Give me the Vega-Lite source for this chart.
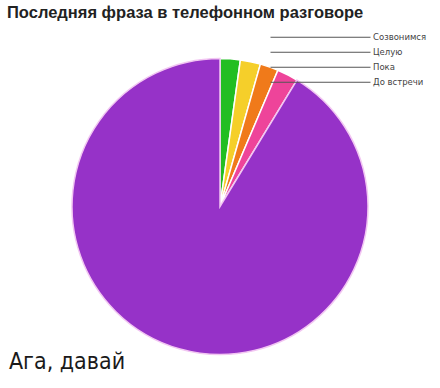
{
  "$schema": "https://vega.github.io/schema/vega-lite/v6.json",
  "width": 440,
  "height": 355,
  "autosize": {"type": "none"},
  "padding": {"top": 29, "left": 0, "right": 0, "bottom": 0},
  "background": "white",
  "title": {
    "text": "Последняя фраза в телефонном разговоре",
    "anchor": "start",
    "dx": 7,
    "dy": 8,
    "font": "Liberation Sans",
    "fontSize": 16.5,
    "fontWeight": "bold",
    "color": "#222222",
    "offset": 4
  },
  "data": {
    "values": [
      {"phrase": "Созвонимся", "share": 2.2, "rank": 1},
      {"phrase": "Целую", "share": 2.2, "rank": 2},
      {"phrase": "Пока", "share": 2.0, "rank": 3},
      {"phrase": "До встречи", "share": 2.3, "rank": 4},
      {"phrase": "Ага, давай", "share": 91.3, "rank": 5}
    ]
  },
  "encoding": {
    "theta": {"field": "share", "type": "quantitative", "stack": true},
    "order": {"field": "rank", "type": "quantitative"}
  },
  "layer": [
    {
      "mark": {"type": "arc", "stroke": "white", "strokeWidth": 1.5},
      "encoding": {
        "color": {
          "field": "phrase",
          "type": "nominal",
          "scale": {
            "domain": ["Ага, давай", "Созвонимся", "Целую", "Пока", "До встречи"],
            "range": ["#9632C8", "#22BE22", "#F5CF2A", "#F07A1A", "#EE449A"]
          },
          "legend": {
            "values": ["Созвонимся", "Целую", "Пока", "До встречи"],
            "title": null,
            "orient": "none",
            "legendX": 270,
            "legendY": 1,
            "padding": 0,
            "symbolType": "stroke",
            "symbolSize": 10000,
            "symbolStrokeColor": "#555555",
            "symbolStrokeWidth": 1,
            "clipHeight": 14.5,
            "rowPadding": 0,
            "labelOffset": 2,
            "labelFont": "DejaVu Sans",
            "labelFontSize": 8.5,
            "labelColor": "#444444"
          }
        },
        "radius": {
          "condition": {"test": "datum.phrase === 'Ага, давай'", "value": 142},
          "value": 148
        },
        "stroke": {
          "condition": {"test": "datum.phrase === 'Ага, давай'", "value": "#F2C6F2"},
          "value": "#FFFFFF"
        }
      }
    },
    {
      "mark": {
        "type": "text",
        "font": "DejaVu Sans Condensed, DejaVu Sans",
        "fontSize": 23,
        "color": "#1a1a1a",
        "align": "right",
        "baseline": "alphabetic",
        "dx": -49,
        "dy": -1
      },
      "encoding": {
        "radius": {"value": 170},
        "text": {
          "condition": {"test": "datum.phrase === 'Ага, давай'", "field": "phrase"},
          "value": ""
        }
      }
    }
  ]
}
